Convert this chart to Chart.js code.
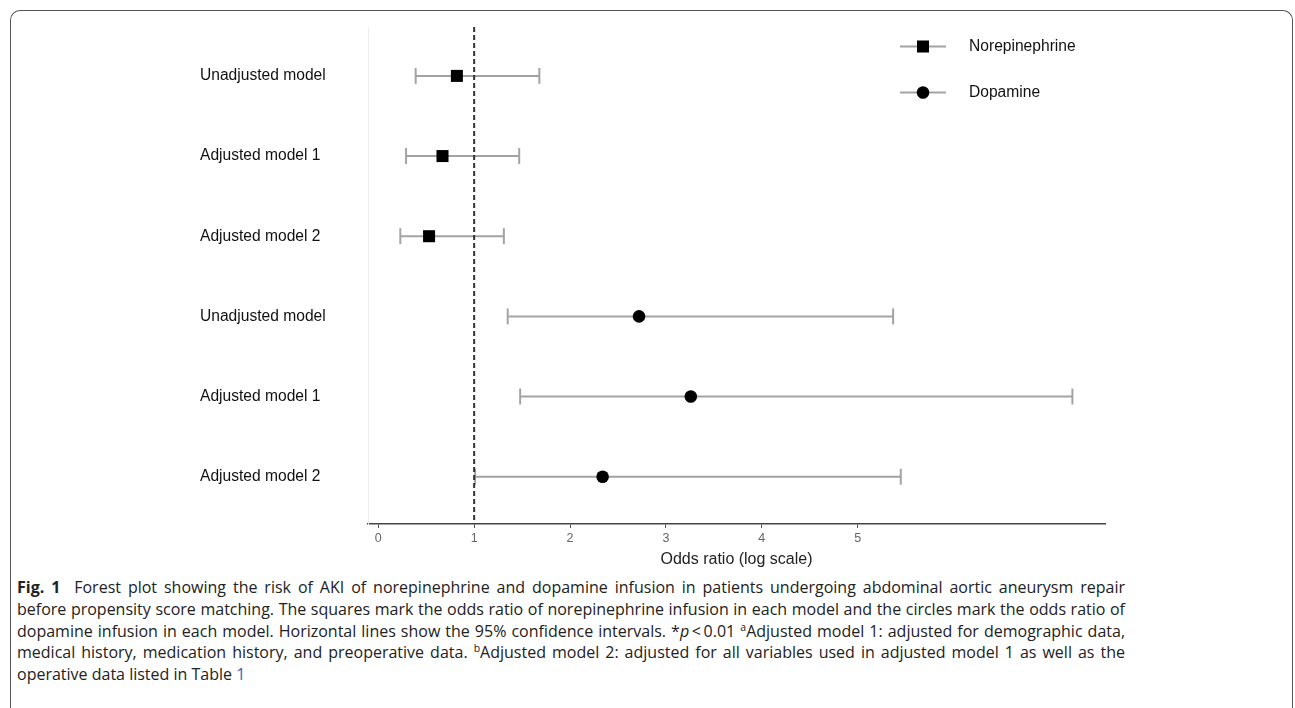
<!DOCTYPE html>
<html>
<head>
<meta charset="utf-8">
<script src="https://cdn.jsdelivr.net/npm/chart.js@4"></script>
<style>
  body { margin: 0; background: #fff; width: 1295px; height: 708px; overflow: hidden; position: relative; }
  #frame { position: absolute; left: 10px; top: 10px; width: 1281px; height: 720px;
    border: 1.5px solid #555; border-bottom: none; border-radius: 10px 10px 0 0; }
  #plot { position: absolute; left: 0; top: 0; }
  #caption { position: absolute; left: 17px; top: 577px; width: 1108px; font-family: "Open Sans", sans-serif;
    font-size: 16px; line-height: 21.8px; color: #222; white-space: nowrap; }
  #caption .j { text-align: justify; text-align-last: justify; white-space: normal; }
  #caption b { font-weight: 700; }
  #caption a { color: #2b6cb0; text-decoration: none; }
  #caption sup { font-size: 10.5px; line-height: 0; }
</style>
</head>
<body>
<div id="frame"></div>
<canvas id="plot" width="1295" height="575"></canvas>
<div id="caption">
<div class="j"><b>Fig. 1</b>&nbsp; Forest plot showing the risk of AKI of norepinephrine and dopamine infusion in patients undergoing abdominal aortic aneurysm repair</div>
<div class="j">before propensity score matching. The squares mark the odds ratio of norepinephrine infusion in each model and the circles mark the odds ratio of</div>
<div class="j">dopamine infusion in each model. Horizontal lines show the 95% confidence intervals. *<i>p</i>&thinsp;&lt;&thinsp;0.01 <sup>a</sup>Adjusted model 1: adjusted for demographic data,</div>
<div class="j">medical history, medication history, and preoperative data. <sup>b</sup>Adjusted model 2: adjusted for all variables used in adjusted model 1 as well as the</div>
<div>operative data listed in Table <a>1</a></div>
</div>
<script>
  // rows, top to bottom
  const rowLabels = ['Unadjusted model', 'Adjusted model 1', 'Adjusted model 2',
                     'Unadjusted model', 'Adjusted model 1', 'Adjusted model 2'];

  // norepinephrine: rows 1-3
  const neRows = [1, 2, 3];
  const neOR = [0.82, 0.67, 0.53];
  const neLow = [0.39, 0.29, 0.23];
  const neHigh = [1.68, 1.47, 1.31];

  // dopamine: rows 4-6
  const dopaRows = [4, 5, 6];
  const dopaOR = [2.72, 3.26, 2.34];
  const dopaLow = [1.35, 1.48, 1.01];
  const dopaHigh = [5.37, 7.24, 5.45];

  const xTicks = [0, 1, 2, 3, 4, 5];
  const refValue = 1;

  const yMin = 0.39, yMax = 6.59;
  const ciColor = '#a3a3a3';
  const labelFont = '"Liberation Sans", Arial, sans-serif';

  function ciDataset(row, lo, hi) {
    return {
      type: 'line',
      data: [{x: lo, y: row}, {x: hi, y: row}],
      borderColor: ciColor,
      borderWidth: 2,
      pointStyle: 'line',
      pointRotation: 90,
      pointRadius: 8,
      pointBorderColor: ciColor,
      pointBorderWidth: 2,
      order: 2,
      isCI: true
    };
  }

  const datasets = [];
  neRows.forEach(function (r, i) { datasets.push(ciDataset(r, neLow[i], neHigh[i])); });
  dopaRows.forEach(function (r, i) { datasets.push(ciDataset(r, dopaLow[i], dopaHigh[i])); });

  // reference line at OR = 1
  datasets.push({
    type: 'line',
    data: [{x: refValue, y: yMin}, {x: refValue, y: yMax}],
    borderColor: '#333',
    borderWidth: 2,
    borderDash: [5, 3],
    pointRadius: 0,
    order: 1,
    isCI: true
  });

  datasets.push({
    label: 'Norepinephrine',
    data: neRows.map(function (r, i) { return {x: neOR[i], y: r}; }),
    pointStyle: 'rect',
    pointRadius: 8.5,
    backgroundColor: '#000',
    borderColor: '#000',
    borderWidth: 0,
    order: 0
  });
  datasets.push({
    label: 'Dopamine',
    data: dopaRows.map(function (r, i) { return {x: dopaOR[i], y: r}; }),
    pointStyle: 'circle',
    pointRadius: 6.3,
    backgroundColor: '#000',
    borderColor: '#000',
    borderWidth: 0,
    order: 0
  });

  // legend: line with the marker on it, drawn at top right
  const lineLegend = {
    id: 'lineLegend',
    afterDraw(chart) {
      const ctx = chart.ctx;
      const items = chart.data.datasets.filter(function (d) { return !d.isCI; });
      ctx.save();
      items.forEach(function (d, i) {
        const y = 46.5 + i * 46;
        ctx.strokeStyle = ciColor;
        ctx.lineWidth = 2;
        ctx.beginPath();
        ctx.moveTo(900, y);
        ctx.lineTo(946, y);
        ctx.stroke();
        ctx.fillStyle = d.backgroundColor;
        Chart.helpers.drawPoint(ctx, {pointStyle: d.pointStyle, radius: d.pointRadius, borderWidth: 0}, 923, y);
        ctx.fillStyle = '#111';
        ctx.font = '15.6px ' + labelFont;
        ctx.textBaseline = 'middle';
        ctx.fillText(d.label, 969, y);
      });
      ctx.restore();
    }
  };

  new Chart(document.getElementById('plot'), {
    type: 'scatter',
    data: { datasets: datasets },
    options: {
      responsive: false,
      devicePixelRatio: 1,
      animation: false,
      layout: { padding: { left: 200, right: 190, top: 27, bottom: 0 } },
      plugins: { legend: { display: false }, tooltip: { enabled: false } },
      scales: {
        x: {
          type: 'linear',
          min: -0.107,
          max: 7.58,
          afterBuildTicks: function (scale) { scale.ticks = xTicks.map(function (v) { return {value: v}; }); },
          afterFit: function (scale) { scale.height = 51; },
          grid: { drawOnChartArea: false, drawTicks: true, tickLength: 4, color: '#555' },
          border: { color: '#444', width: 1.5 },
          ticks: { color: '#666', padding: 3, font: { family: labelFont, size: 12.5 } },
          title: {
            display: true,
            text: 'Odds ratio (log scale)',
            color: '#222',
            font: { family: labelFont, size: 16 },
            padding: { top: 0, bottom: 6 }
          }
        },
        y: {
          type: 'linear',
          reverse: true,
          min: yMin,
          max: yMax,
          afterBuildTicks: function (scale) { scale.ticks = rowLabels.map(function (l, i) { return {value: i + 1}; }); },
          afterFit: function (scale) { scale.width = 168; },
          grid: { display: false, drawTicks: false },
          border: { color: '#ececec', width: 1 },
          ticks: {
            crossAlign: 'far',
            color: '#111',
            font: { family: labelFont, size: 15.6 },
            callback: function (v) { return rowLabels[v - 1]; }
          }
        }
      }
    },
    plugins: [lineLegend]
  });
</script>
</body>
</html>
